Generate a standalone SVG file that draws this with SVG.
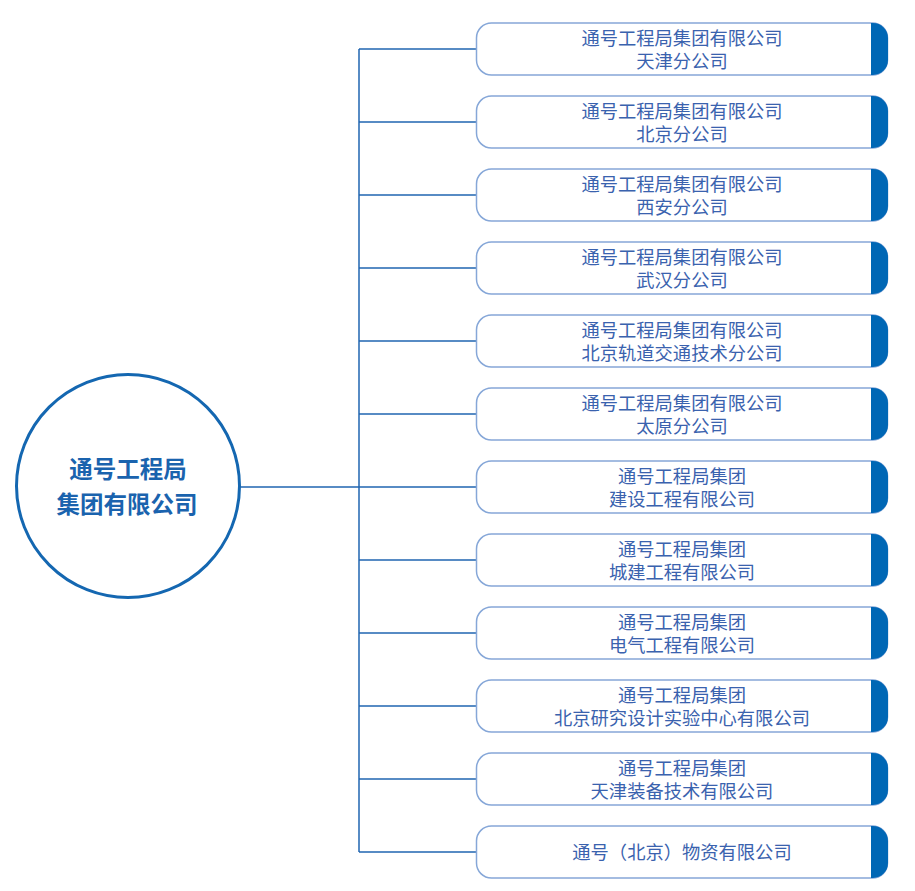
<svg xmlns="http://www.w3.org/2000/svg" width="915" height="891" viewBox="0 0 915 891">
<defs>
<style>
.conn{stroke:#1f65b0;stroke-width:1.5;fill:none}
.box{fill:#ffffff;stroke:#86a7d8;stroke-width:1.5}
.band{fill:#0067b5}
.t{font-family:"Noto Sans CJK SC","Noto Sans",sans-serif;font-size:18.3px;fill:#3a62ae;text-anchor:middle}
.ct{font-family:"Noto Sans CJK SC","Noto Sans",sans-serif;font-size:23.5px;font-weight:bold;fill:#1a63ae;text-anchor:middle}
</style>
<g id="boxshape">
<rect class="box" x="476.5" y="0" width="411" height="52" rx="15" ry="15"/>
<path class="band" d="M871,0 H873 A15,15 0 0 1 888,15 V37 A15,15 0 0 1 873,52 H871 Z"/>
</g>
</defs>
<rect width="915" height="891" fill="#ffffff"/>
<g id="connectors">
<line class="conn" x1="359" y1="49" x2="359" y2="852"/>
<line class="conn" x1="240" y1="487" x2="359" y2="487"/>
<line class="conn" x1="359" y1="49" x2="476" y2="49"/>
<line class="conn" x1="359" y1="122" x2="476" y2="122"/>
<line class="conn" x1="359" y1="195" x2="476" y2="195"/>
<line class="conn" x1="359" y1="268" x2="476" y2="268"/>
<line class="conn" x1="359" y1="341" x2="476" y2="341"/>
<line class="conn" x1="359" y1="414" x2="476" y2="414"/>
<line class="conn" x1="359" y1="487" x2="476" y2="487"/>
<line class="conn" x1="359" y1="560" x2="476" y2="560"/>
<line class="conn" x1="359" y1="633" x2="476" y2="633"/>
<line class="conn" x1="359" y1="706" x2="476" y2="706"/>
<line class="conn" x1="359" y1="779" x2="476" y2="779"/>
<line class="conn" x1="359" y1="852" x2="476" y2="852"/>
</g>
<g id="root">
<circle cx="128" cy="486" r="111.5" fill="#ffffff" stroke="#1467b1" stroke-width="3"/>
<text class="ct" x="128" y="477.5">通号工程局</text>
<text class="ct" x="127" y="512.5">集团有限公司</text>
</g>
<g id="n1" transform="translate(0,23)"><use href="#boxshape"/><text class="t" x="682" y="21.7">通号工程局集团有限公司</text><text class="t" x="682" y="45.2">天津分公司</text></g>
<g id="n2" transform="translate(0,96)"><use href="#boxshape"/><text class="t" x="682" y="21.7">通号工程局集团有限公司</text><text class="t" x="682" y="45.2">北京分公司</text></g>
<g id="n3" transform="translate(0,169)"><use href="#boxshape"/><text class="t" x="682" y="21.7">通号工程局集团有限公司</text><text class="t" x="682" y="45.2">西安分公司</text></g>
<g id="n4" transform="translate(0,242)"><use href="#boxshape"/><text class="t" x="682" y="21.7">通号工程局集团有限公司</text><text class="t" x="682" y="45.2">武汉分公司</text></g>
<g id="n5" transform="translate(0,315)"><use href="#boxshape"/><text class="t" x="682" y="21.7">通号工程局集团有限公司</text><text class="t" x="682" y="45.2">北京轨道交通技术分公司</text></g>
<g id="n6" transform="translate(0,388)"><use href="#boxshape"/><text class="t" x="682" y="21.7">通号工程局集团有限公司</text><text class="t" x="682" y="45.2">太原分公司</text></g>
<g id="n7" transform="translate(0,461)"><use href="#boxshape"/><text class="t" x="682" y="21.7">通号工程局集团</text><text class="t" x="682" y="45.2">建设工程有限公司</text></g>
<g id="n8" transform="translate(0,534)"><use href="#boxshape"/><text class="t" x="682" y="21.7">通号工程局集团</text><text class="t" x="682" y="45.2">城建工程有限公司</text></g>
<g id="n9" transform="translate(0,607)"><use href="#boxshape"/><text class="t" x="682" y="21.7">通号工程局集团</text><text class="t" x="682" y="45.2">电气工程有限公司</text></g>
<g id="n10" transform="translate(0,680)"><use href="#boxshape"/><text class="t" x="682" y="21.7">通号工程局集团</text><text class="t" x="682" y="45.2">北京研究设计实验中心有限公司</text></g>
<g id="n11" transform="translate(0,753)"><use href="#boxshape"/><text class="t" x="682" y="21.7">通号工程局集团</text><text class="t" x="682" y="45.2">天津装备技术有限公司</text></g>
<g id="n12" transform="translate(0,826)"><use href="#boxshape"/><text class="t" x="682" y="32.7">通号（北京）物资有限公司</text></g>
</svg>
